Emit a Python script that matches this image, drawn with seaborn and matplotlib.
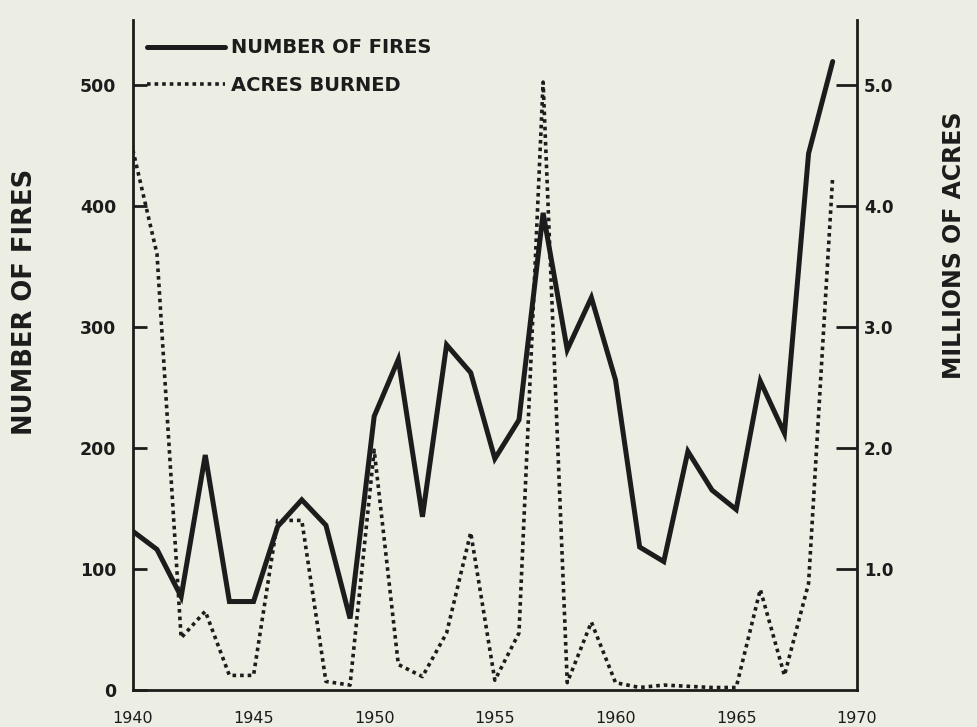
import numpy as np
import matplotlib
matplotlib.use('Agg')
from matplotlib import pyplot as plt
import seaborn as sns

# values
years = list(range(1940, 1970))
fires = [131, 116, 77, 194, 73, 73, 135, 157, 136, 59,
         226, 273, 143, 285, 262, 191, 223, 394, 281, 324,
         256, 118, 106, 197, 165, 149, 255, 212, 443, 519]
acres = [4.46, 3.60, 0.43, 0.65, 0.12, 0.12, 1.40, 1.40, 0.07, 0.04,
         1.98, 0.21, 0.11, 0.47, 1.30, 0.08, 0.47, 5.02, 0.06, 0.56,
         0.06, 0.02, 0.04, 0.03, 0.02, 0.02, 0.83, 0.12, 0.88, 4.24]

year_ticks = [1940, 1945, 1950, 1955, 1960, 1965, 1970]
fire_ticks = [0, 100, 200, 300, 400, 500]
acre_ticks = [1.0, 2.0, 3.0, 4.0, 5.0]

paper = '#ecede3'
ink = '#1c1c1c'

sns.set_style('white')
plt.rcParams['font.family'] = ['DejaVu Sans']

fig, ax = plt.subplots(figsize=(9.77, 7.27), dpi=100)
fig.patch.set_facecolor(paper)
ax.set_facecolor(paper)
fig.subplots_adjust(left=0.136, right=0.877, bottom=0.051, top=0.972)

sns.lineplot(x=years, y=fires, ax=ax, color=ink, lw=3.6,
             solid_joinstyle='miter', label='NUMBER OF FIRES', legend=False)
ax2 = ax.twinx()
sns.lineplot(x=years, y=acres, ax=ax2, color=ink, lw=2.6,
             linestyle=(0, (1, 1.1)), label='ACRES BURNED', legend=False)

ax.set_xlim(1940, 1970)
ax.set_ylim(0, 553)
ax2.set_ylim(0, 5.53)

ax.set_xticks(year_ticks)
ax.set_xticklabels([str(y) for y in year_ticks], fontsize=11.5, color=ink)
ax.tick_params(axis='x', length=0, pad=15)

ax.set_yticks(fire_ticks)
ax.set_yticklabels([str(v) for v in fire_ticks], fontsize=12.5,
                   fontweight='bold', color=ink)
ax.tick_params(axis='y', direction='in', length=10, width=2, color=ink, pad=12)

ax2.set_yticks(acre_ticks)
ax2.set_yticklabels(['%.1f' % v for v in acre_ticks], fontsize=12,
                    fontweight='bold', color=ink)
ax2.tick_params(axis='y', direction='in', length=15, width=2, color=ink, pad=5)

for a in (ax, ax2):
  for s in a.spines.values():
    s.set_color(ink)
    s.set_linewidth(2)
  a.spines['top'].set_visible(False)
ax.spines['right'].set_visible(False)
ax2.spines['left'].set_visible(False)
ax2.spines['bottom'].set_visible(False)
ax2.set_xlabel('')

ax.set_ylabel('NUMBER OF FIRES', fontsize=18.5, fontweight='bold', color=ink)
ax.yaxis.set_label_coords(-0.131, 0.579)
ax2.set_ylabel('MILLIONS OF ACRES', fontsize=17, fontweight='bold', color=ink)
ax2.yaxis.set_label_coords(1.117, 0.664)

handles = ax.get_lines()[:1] + ax2.get_lines()[:1]
leg = ax2.legend(handles, ['NUMBER OF FIRES', 'ACRES BURNED'],
                 loc='upper left', bbox_to_anchor=(0.02, 0.973),
                 frameon=False, fontsize=14, handlelength=4.0,
                 handletextpad=0.3, labelspacing=0.95, borderaxespad=0,
                 borderpad=0)
for t in leg.get_texts():
  t.set_fontweight('bold')
  t.set_color(ink)

fig.savefig('out.png', dpi=100, facecolor=paper)
